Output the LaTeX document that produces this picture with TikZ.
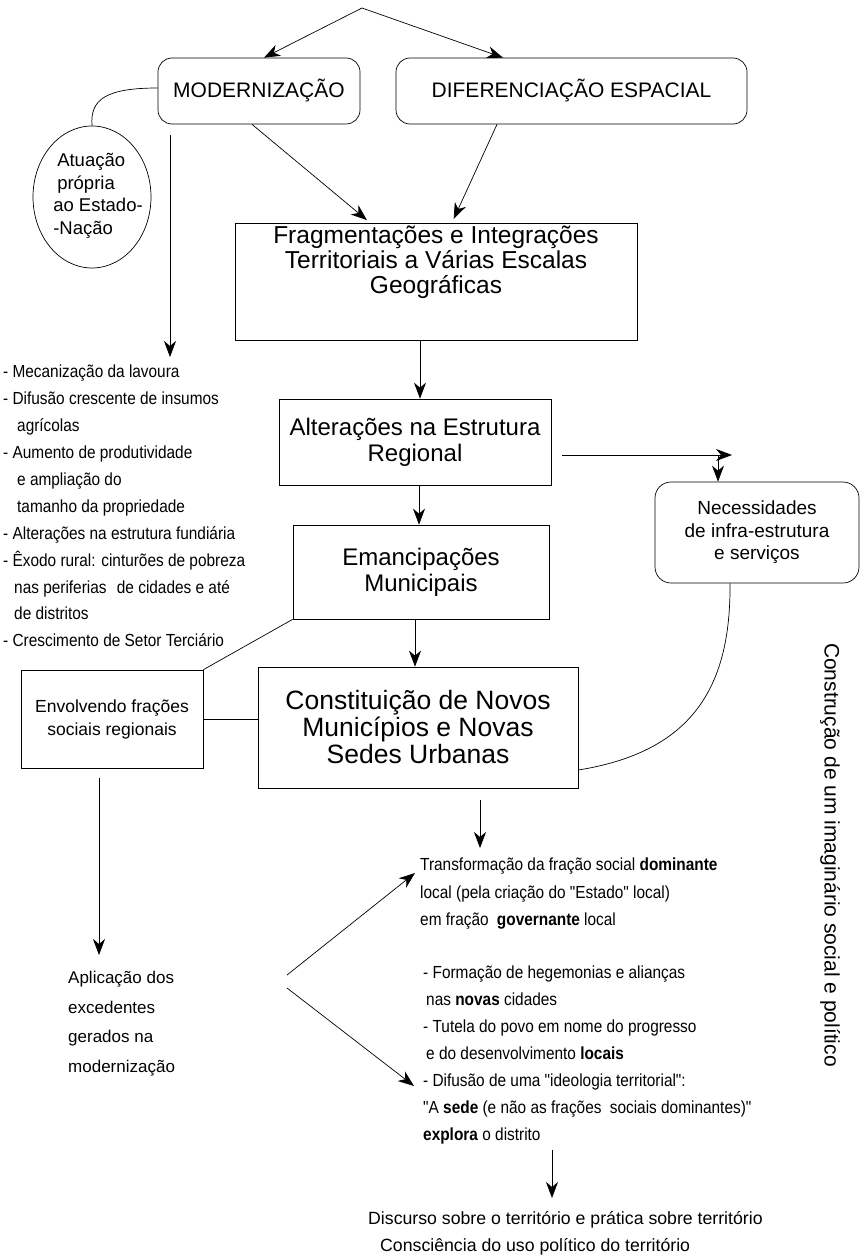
\documentclass[tikz,border=0pt]{standalone}
\usepackage{fontspec}
\setmainfont{Liberation Sans}
\newfontfamily\nfont[FakeStretch=0.88]{Liberation Sans}
\usetikzlibrary{arrows.meta,shapes.geometric}
\newcommand\fs[2]{\fontsize{#1}{#2}\selectfont}
\tikzset{
  ln/.style={line width=0.7pt},
  arr/.style={ln,-{Stealth[length=16pt,width=12pt,inset=5pt]}},
  rbox/.style={draw,ln,rounded corners=14pt,inner sep=0pt},
  sbox/.style={draw,ln,inner sep=0pt},
  txt/.style={inner sep=0pt,align=center},
  ltxt/.style={inner sep=0pt,align=left,anchor=north west},
}
\begin{document}
\begin{tikzpicture}[x=1pt,y=-1pt]
\path[fill=white,use as bounding box] (0,0) rectangle (861,1255);

% top boxes
\coordinate (apex) at (362,8);
\node[rbox,minimum width=202pt,minimum height=66pt,font=\fs{21}{25}] (mod) at (259,91) {MODERNIZAÇÃO};
\node[rbox,minimum width=351pt,minimum height=66pt,font=\fs{21}{25}] (dif) at (571.5,91) {DIFERENCIAÇÃO ESPACIAL};
\draw[arr] (apex) -- ([xshift=5pt]mod.north);
\draw[arr] (apex) -- ([xshift=-68.5pt]dif.north);

% ellipse
\node[draw,ln,ellipse,minimum width=118pt,minimum height=142pt,inner sep=0pt] (ell) at (92,197) {};
\node[txt,align=left,font=\fs{18.5}{22.5}] (ellT) at (98,196) {\hspace*{4pt}Atuação\\\hspace*{4pt}própria\\ao Estado-\\-Nação};
\draw[ln] ([yshift=3pt]mod.west) .. controls (105,88) and (90,100) .. (ell.north);

% long arrow to list
\coordinate (v1) at (170,135);
\coordinate (v2) at (170,357);
\draw[arr] (v1) -- (v2);

\node[ltxt,font=\nfont\fs{17.5}{26.9}] (list) at (3,365) {%
- Mecanização da lavoura\\
- Difusão crescente de insumos\\
\hspace*{14pt}agrícolas\\
- Aumento de produtividade\\
\hspace*{14pt}e ampliação do\\
\hspace*{14pt}tamanho da propriedade\\
- Alterações na estrutura fundiária\\
- Êxodo rural: cinturões de pobreza\\
\hspace*{11pt}nas periferias\hspace{6pt} de cidades e até\\
\hspace*{11pt}de distritos\\
- Crescimento de Setor Terciário};

% central chain
\node[sbox,minimum width=402pt,minimum height=117pt] (frag) at (436,281.5) {};
\node[txt,font=\fs{24.5}{25}] (fragT) at (436,262) {Fragmentações e Integrações\\Territoriais a Várias Escalas\\Geográficas};
\draw[arr,shorten >=4pt] ([xshift=-7pt]mod.south) -- ([xshift=-66pt]frag.north);
\draw[arr,shorten >=4pt] ([xshift=-74.5pt]dif.south) -- ([xshift=16pt]frag.north);

\node[sbox,minimum width=272pt,minimum height=86pt,font=\fs{24}{26},align=center] (alt) at (415,442) {Alterações na Estrutura\\Regional};
\draw[arr] ([xshift=-16pt]frag.south) -- ([xshift=5pt]alt.north);

\node[sbox,minimum width=256pt,minimum height=94pt,font=\fs{24}{26},align=center] (emanc) at (421,572) {Emancipações\\Municipais};
\draw[arr] ([xshift=4pt]alt.south) -- ([xshift=-2pt]emanc.north);

\node[rbox,rounded corners=16pt,minimum width=204pt,minimum height=101pt,font=\fs{19}{22.5},align=center] (nec) at (757,532.5) {Necessidades\\de infra-estrutura\\e serviços};
\coordinate (hr) at (732,455);
\coordinate (hd) at (718,455);
\draw[arr] ([xshift=11pt,yshift=-13pt]alt.east) -- (hr);
\draw[arr] (hd) -- (hd |- nec.north);

\node[sbox,minimum width=320pt,minimum height=121pt,font=\fs{26.5}{27},align=center] (con) at (418,727.5) {Constituição de Novos\\Municípios e Novas\\Sedes Urbanas};
\draw[arr] ([xshift=-6pt]emanc.south) -- ([xshift=-3pt]con.north);
\draw[ln] ([xshift=-27pt]nec.south) .. controls (731,690) and (690,752) .. ([yshift=-42.5pt]con.east);

\node[sbox,minimum width=182pt,minimum height=98pt,font=\fs{17.5}{23},align=center] (env) at (112,719) {Envolvendo frações\\sociais regionais};
\draw[ln] (emanc.south west) -- (env.north east);
\draw[ln] (env.east) -- (env.east -| con.west);

% Aplicação
\coordinate (e1) at (99,778);
\coordinate (e2) at (99,955);
\draw[arr] (e1) -- (e2);
\node[ltxt,font=\fs{17}{29.5}] (apl) at (68,971) {Aplicação dos\\excedentes\\gerados na\\modernização};

% right texts
\coordinate (c1) at (480,800);
\coordinate (c2) at (480,848);
\draw[arr] (c1) -- (c2);
\node[ltxt,font=\nfont\fs{17.5}{27.5}] (tra) at (420,858) {Transformação da fração social \textbf{dominante}\\local (pela criação do "Estado" local)\\em fração\hspace{4pt} \textbf{governante} local};
\node[ltxt,font=\nfont\fs{17.5}{27}] (form) at (423,966) {- Formação de hegemonias e alianças\\
\hspace*{3pt}nas \textbf{novas} cidades\\
- Tutela do povo em nome do progresso\\
\hspace*{3pt}e do desenvolvimento \textbf{locais}\\
- Difusão de uma "ideologia territorial":\\
"A \textbf{sede} (e não as frações\hspace{4pt} sociais dominantes)"\\
\textbf{explora} o distrito};

\coordinate (k1) at (287,975);
\coordinate (k2) at (287,988);
\coordinate (k3) at (415,873);
\coordinate (k4) at (414,1086);
\draw[arr] (k1) -- (k3);
\draw[arr] (k2) -- (k4);

\coordinate (d1) at (552,1150);
\coordinate (d2) at (552,1198);
\draw[arr] (d1) -- (d2);
\node[ltxt,font=\fs{17.7}{27}] (disc) at (368,1211) {Discurso sobre o território e prática sobre território\\\hspace*{12pt}Consciência do uso político do território};

\node[txt,rotate=-90,font=\fs{21}{25}] (rot) at (830,855) {Construção de um imaginário social e político};
\end{tikzpicture}
\end{document}
